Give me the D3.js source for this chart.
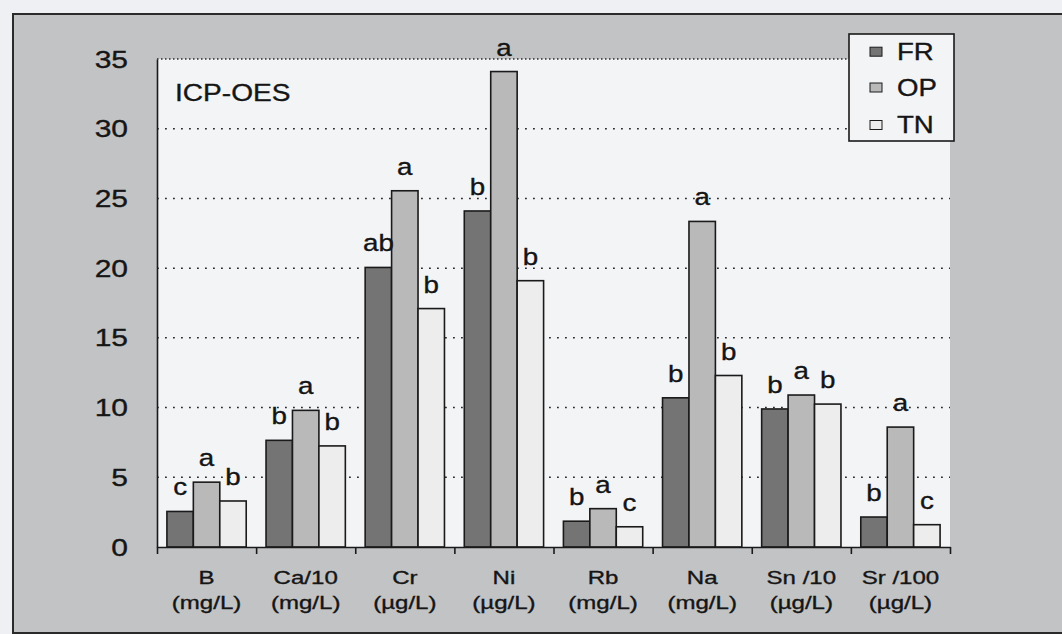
<!DOCTYPE html>
<html>
<head>
<meta charset="utf-8">
<script src="https://cdn.jsdelivr.net/npm/d3@7"></script>
<style>
  body { margin: 0; background: #eff0f3; }
  text { font-family: "Liberation Sans", Arial, sans-serif; fill: #151515; stroke: #151515; stroke-width: 0.35; }
</style>
</head>
<body>
<div id="chart"></div>
<script>
// data
const elements = ["B", "Ca/10", "Cr", "Ni", "Rb", "Na", "Sn /10", "Sr /100"];
const units = ["(mg/L)", "(mg/L)", "(\u00b5g/L)", "(\u00b5g/L)", "(mg/L)", "(mg/L)", "(\u00b5g/L)", "(\u00b5g/L)"];
const series = ["FR", "OP", "TN"];
const frValues = [2.55, 7.65, 20.05, 24.1, 1.85, 10.7, 9.9, 2.15];
const opValues = [4.65, 9.8, 25.55, 34.1, 2.75, 23.35, 10.9, 8.6];
const tnValues = [3.3, 7.25, 17.1, 19.1, 1.45, 12.3, 10.25, 1.6];
const frLetters = ["c", "b", "ab", "b", "b", "b", "b", "b"];
const opLetters = ["a", "a", "a", "a", "a", "a", "a", "a"];
const tnLetters = ["b", "b", "b", "b", "c", "b", "b", "c"];
const yTicks = [0, 5, 10, 15, 20, 25, 30, 35];

const width = 1062, height = 634;
const margin = {left: 157, right: 112, top: 59, bottom: 87};

const colors = {FR: "#747474", OP: "#b9b9b9", TN: "#ededed"};

const valuesBy = {FR: frValues, OP: opValues, TN: tnValues};
const lettersBy = {FR: frLetters, OP: opLetters, TN: tnLetters};

const svg = d3.select("#chart")
  .append("svg")
  .attr("width", width)
  .attr("height", height)
  .attr("viewBox", [0, 0, width, height]);

// outer gray frame
svg.append("rect")
  .attr("x", 13).attr("y", 14)
  .attr("width", 1100).attr("height", 619)
  .attr("fill", "#c2c3c5")
  .attr("stroke", "#2a2a2a")
  .attr("stroke-width", 2);

const x0 = d3.scaleBand()
  .domain(elements)
  .range([margin.left, width - margin.right])
  .paddingInner(0.2)
  .paddingOuter(0.1);

const x1 = d3.scaleBand()
  .domain(series)
  .range([0, x0.bandwidth()]);

const y = d3.scaleLinear()
  .domain([0, 35])
  .range([height - margin.bottom, margin.top]);

// plot background
svg.append("rect")
  .attr("x", margin.left)
  .attr("y", y(35))
  .attr("width", width - margin.right - margin.left)
  .attr("height", y(0) - y(35))
  .attr("fill", "#f3f4f6");

// dotted gridlines
svg.append("g")
  .selectAll("line")
  .data(yTicks.filter(d => d > 0))
  .join("line")
    .attr("x1", margin.left)
    .attr("x2", width - margin.right)
    .attr("y1", d => y(d))
    .attr("y2", d => y(d))
    .attr("stroke", "#2a2a2a")
    .attr("stroke-width", d => d === 35 ? 1.6 : 1.5)
    .attr("stroke-dasharray", d => d === 35 ? "1.5,2.5" : "1.8,6.2");

// helper for the wide scanned lettering
function wideText(g, x, yy, str, size, sx, anchor) {
  return g.append("text")
    .attr("transform", `translate(${x},${yy}) scale(${sx},1)`)
    .attr("text-anchor", anchor)
    .attr("font-size", size)
    .text(str);
}

// bars
const groups = svg.append("g")
  .selectAll("g")
  .data(elements)
  .join("g")
    .attr("transform", d => `translate(${x0(d)},0)`);

groups.selectAll("rect")
  .data((d, i) => series.map(s => ({s: s, v: valuesBy[s][i], l: lettersBy[s][i]})))
  .join("rect")
    .attr("x", d => x1(d.s))
    .attr("y", d => y(d.v))
    .attr("width", x1.bandwidth())
    .attr("height", d => y(0) - y(d.v))
    .attr("fill", d => colors[d.s])
    .attr("stroke", "#1a1a1a")
    .attr("stroke-width", 1.6);

// significance letters
groups.each(function(e, i) {
  const g = d3.select(this);
  series.forEach(s => {
    wideText(g, x1(s) + x1.bandwidth() / 2, y(valuesBy[s][i]) - 16,
      lettersBy[s][i], 23.5, 1.18, "middle");
  });
});

// y axis line
svg.append("g")
  .attr("transform", `translate(${margin.left},0)`)
  .call(d3.axisLeft(y).tickValues([]).tickSize(0))
  .call(g => g.select(".domain").attr("stroke", "#1a1a1a").attr("stroke-width", 1.6));

// y tick labels
const yLab = svg.append("g");
yTicks.forEach(t => wideText(yLab, 128, y(t) + 8.5, t, 24, 1.25, "end"));

// x axis with ticks at category boundaries
const xEdge = d3.scaleLinear().domain([0, elements.length]).range([margin.left, width - margin.right]);
svg.append("g")
  .attr("transform", `translate(0,${y(0)})`)
  .call(d3.axisBottom(xEdge).tickValues(d3.range(0, elements.length + 1)).tickFormat("").tickSizeInner(7).tickSizeOuter(0))
  .call(g => g.selectAll("line,path").attr("stroke", "#1a1a1a").attr("stroke-width", 1.6));

// category labels
const xLab = svg.append("g");
elements.forEach((e, i) => {
  const cx = x0(e) + x0.bandwidth() / 2;
  wideText(xLab, cx, 584, e, 18.5, 1.3, "middle");
  wideText(xLab, cx, 609, units[i], 18.5, 1.3, "middle");
});

// panel title
wideText(svg, 175, 101, "ICP-OES", 24, 1.17, "start");

// legend
const legend = svg.append("g");
legend.append("rect")
  .attr("x", 849).attr("y", 34)
  .attr("width", 105).attr("height", 107)
  .attr("fill", "#f3f4f6")
  .attr("stroke", "#1a1a1a")
  .attr("stroke-width", 1.6);
const rowY = [51.7, 87.5, 125];
series.forEach((s, i) => {
  legend.append("rect")
    .attr("x", 870).attr("y", rowY[i] - 4.5)
    .attr("width", 12).attr("height", 9)
    .attr("fill", colors[s])
    .attr("stroke", "#1a1a1a")
    .attr("stroke-width", 1);
  wideText(legend, 897, rowY[i] + 8, s, 23, 1.2, "start");
});
</script>
</body>
</html>
